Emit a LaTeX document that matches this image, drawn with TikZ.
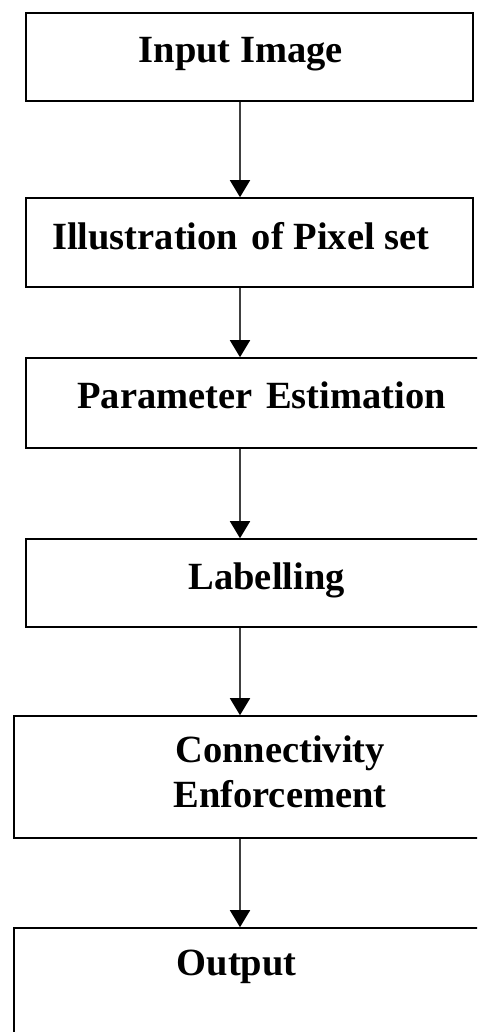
\documentclass[tikz,border=0pt]{standalone}
\usepackage{fontspec}
\setmainfont{Liberation Serif}
\usetikzlibrary{arrows.meta}
\tikzset{
  box/.style={draw, line width=1.6pt, rectangle, inner sep=0pt},
  lbl/.style={font=\fontsize{38.5}{45}\selectfont\bfseries, inner sep=0pt, anchor=base},
  arr/.style={line width=1.8pt, draw=black!75, -{Triangle[length=17pt,width=20pt,black]}}
}
\begin{document}
\begin{tikzpicture}[x=1pt,y=-1pt]
      \useasboundingbox (0,0) rectangle (477,1032);
      \clip (0,0) rectangle (477,1032);
      % boxes
      \node[box, minimum width=447pt, minimum height=88pt] (in) at (249.5,57) {};
      \node[box, minimum width=447pt, minimum height=89pt] (pix) at (249.5,242.5) {};
      \node[box, minimum width=474pt, minimum height=90pt] (par) at (263,403) {};
      \node[box, minimum width=474pt, minimum height=88pt] (lab) at (263,583) {};
      \node[box, minimum width=486pt, minimum height=122pt] (con) at (257,777) {};
      \node[box, minimum width=486pt, minimum height=122pt] (out) at (257,989) {};
      % texts
      \node[lbl] (tin) at (240.8,63) {Input Image};
      \node[lbl] (tpix) at (240.8,249) {Illustration\hspace{4pt} of Pixel set};
      \node[lbl] (tpar) at (261.7,408) {Parameter\hspace{4pt} Estimation};
      \node[lbl] (tlab) at (266.7,589) {Labelling};
      \node[lbl, anchor=center, align=center] (tcon) at (280,772) {Connectivity\\Enforcement};
      \node[lbl] (tout) at (236.7,975) {Output};
      \coordinate (axis) at (240,0);
      \begin{scope}
        \draw[arr] (in.south -| axis) -- (pix.north -| axis);
        \draw[arr] (pix.south -| axis) -- (par.north -| axis);
        \draw[arr] (par.south -| axis) -- (lab.north -| axis);
        \draw[arr] (lab.south -| axis) -- (con.north -| axis);
        \draw[arr] (con.south -| axis) -- (out.north -| axis);
      \end{scope}
    \end{tikzpicture}
\end{document}
